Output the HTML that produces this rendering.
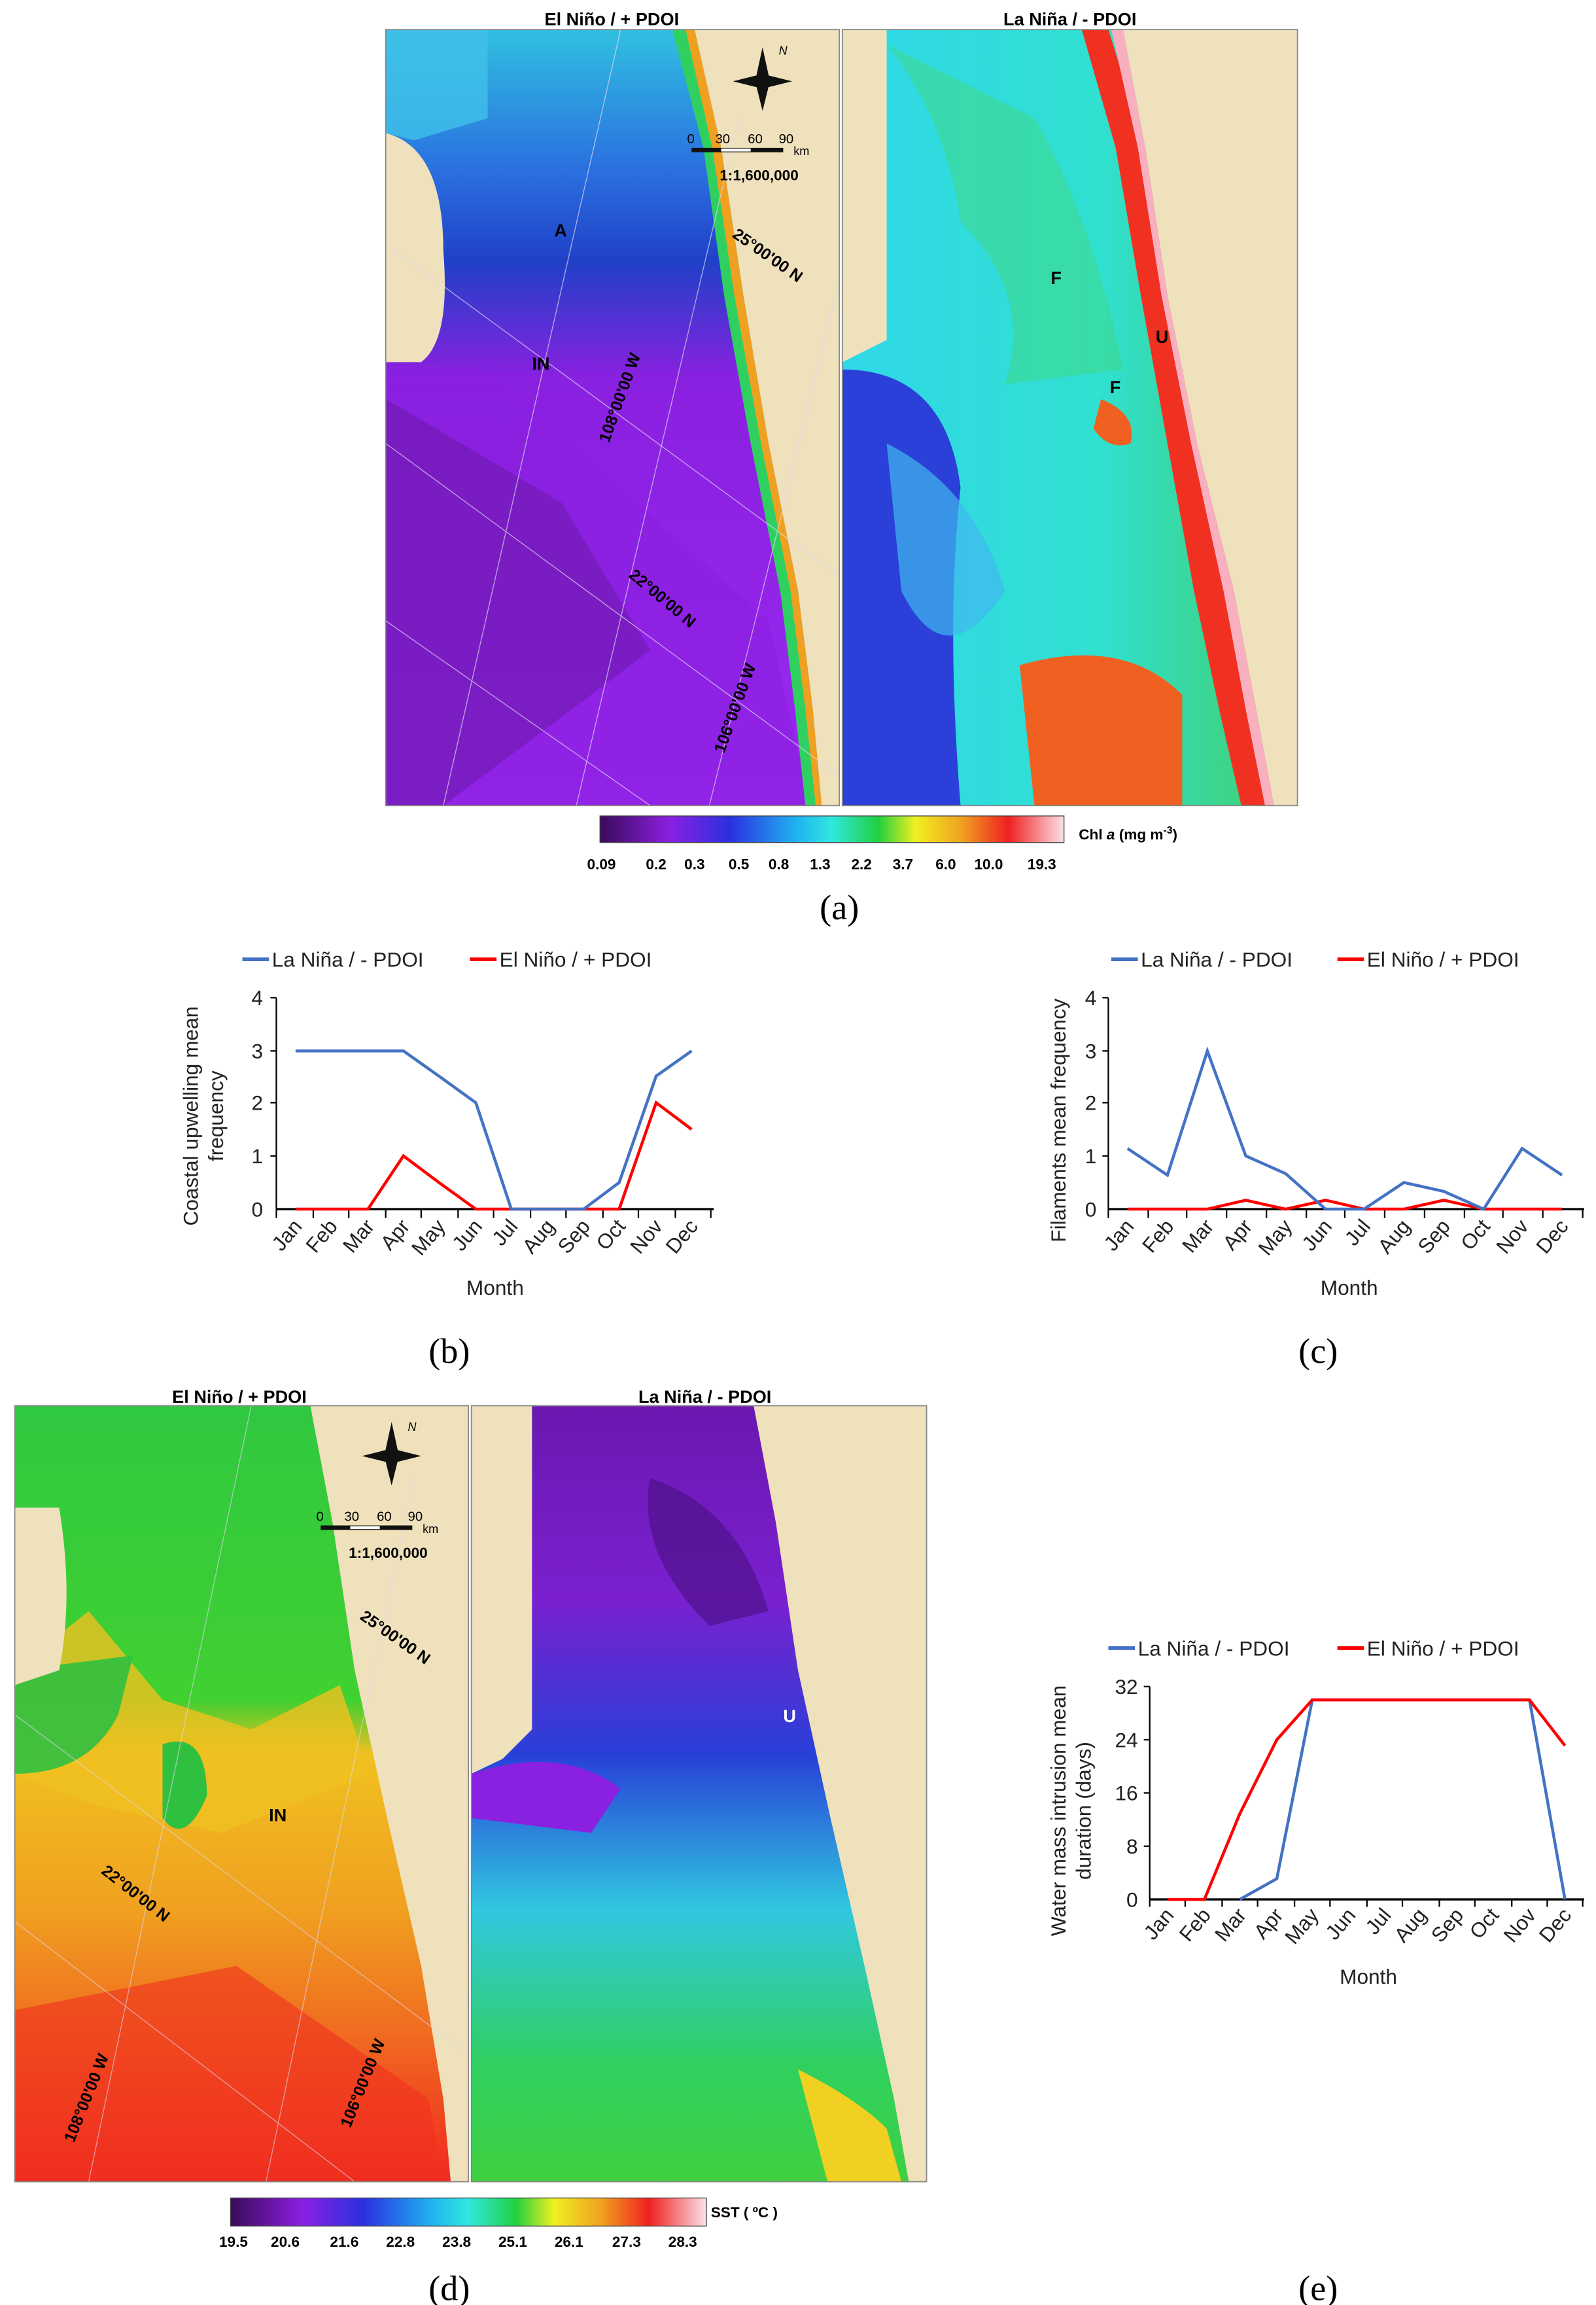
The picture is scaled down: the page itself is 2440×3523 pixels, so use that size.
<!DOCTYPE html>
<html><head><meta charset="utf-8"><style>
html,body{margin:0;padding:0;background:#fff;}
svg{display:block;}
text{font-family:"Liberation Sans",Arial,sans-serif;}
.t{font-weight:bold;font-size:12px;}
.lg{font-size:14px;fill:#222;}
.tk{font-size:14px;fill:#222;}
.cap{font-family:"Liberation Serif",serif;font-size:24px;}
.cb{font-size:10px;font-weight:bold;}
.ml{font-size:12px;font-weight:bold;}
</style></head><body>
<svg width="2440" height="3523" viewBox="0 0 1080 1559.4" preserveAspectRatio="none" xmlns="http://www.w3.org/2000/svg">
<defs>
<linearGradient id="chl" x1="0" x2="1" y1="0" y2="0">
<stop offset="0" stop-color="#3a0a5a"/><stop offset="0.15" stop-color="#8a20e0"/><stop offset="0.28" stop-color="#2a30e0"/><stop offset="0.42" stop-color="#20b0f0"/><stop offset="0.5" stop-color="#30e8e0"/><stop offset="0.6" stop-color="#20d040"/><stop offset="0.68" stop-color="#f0f020"/><stop offset="0.78" stop-color="#f0a020"/><stop offset="0.88" stop-color="#f02020"/><stop offset="1" stop-color="#fce0e8"/></linearGradient>
<linearGradient id="ocA" x1="0" x2="0" y1="0" y2="1">
<stop offset="0" stop-color="#30c0e0"/><stop offset="0.18" stop-color="#2a70e0"/><stop offset="0.3" stop-color="#2040c8"/><stop offset="0.45" stop-color="#8a20e0"/><stop offset="1" stop-color="#9a28f0"/></linearGradient>
<linearGradient id="ocB" x1="0" x2="1" y1="0" y2="0">
<stop offset="0" stop-color="#30d8e8"/><stop offset="0.6" stop-color="#30e0d0"/><stop offset="1" stop-color="#40d070"/></linearGradient>
<linearGradient id="ocD" x1="0" x2="0" y1="0" y2="1">
<stop offset="0" stop-color="#30c840"/><stop offset="0.38" stop-color="#40d030"/><stop offset="0.45" stop-color="#f0c020"/><stop offset="0.65" stop-color="#f0a020"/><stop offset="1" stop-color="#f02a20"/></linearGradient>
<linearGradient id="ocE" x1="0" x2="0" y1="0" y2="1">
<stop offset="0" stop-color="#6a18b0"/><stop offset="0.25" stop-color="#7a20d0"/><stop offset="0.45" stop-color="#2840d8"/><stop offset="0.65" stop-color="#30c8e0"/><stop offset="0.85" stop-color="#30d060"/><stop offset="1" stop-color="#40d040"/></linearGradient>
</defs>
<rect width="1080" height="1560" fill="#fff"/>

<!-- Panel a -->
<text class="t" x="414" y="17" text-anchor="middle">El Niño / + PDOI</text>
<text class="t" x="724" y="17" text-anchor="middle">La Niña / - PDOI</text>
<rect x="261" y="20" width="307" height="525" fill="#efe1bc"/>
<path d="M261,20 L470,20 L488,100 L503,200 L520,300 L540,400 L550,480 L556,545 L261,545 Z" fill="url(#ocA)"/>
<path d="M261,245 L330,250 L420,330 L520,420 L548,545 L261,545Z" fill="#8a20e0" opacity="0.6"/>
<path d="M261,270 L380,340 L440,440 L300,545 L261,545Z" fill="#6a1aa8" opacity="0.55"/>
<path d="M470,20 L488,100 L503,200 L520,300 L540,400 L550,480 L556,545 L545,545 L538,480 L528,400 L508,300 L490,200 L476,100 L455,20Z" fill="#30d060"/>
<path d="M470,20 L488,100 L503,200 L520,300 L540,400 L550,480 L556,545 L552,545 L545,480 L535,400 L515,300 L497,200 L482,100 L464,20Z" fill="#f0a020"/>
<path d="M261,90 Q300,100 300,170 Q305,230 285,245 L261,245Z" fill="#efe1bc"/>
<path d="M261,20 L330,20 L330,80 L280,95 L261,90Z" fill="#40c0e8" opacity="0.8"/>
<g stroke="#e0d8f0" stroke-width="0.6" opacity="0.7" fill="none">
<line x1="261" y1="165" x2="568" y2="390"/><line x1="261" y1="300" x2="568" y2="525"/><line x1="261" y1="420" x2="440" y2="545"/>
<line x1="300" y1="545" x2="420" y2="20"/><line x1="390" y1="545" x2="500" y2="80"/><line x1="480" y1="545" x2="568" y2="190"/>
</g>
<text x="375" y="160" font-size="12" font-weight="bold">A</text>
<text x="360" y="250" font-size="12" font-weight="bold">IN</text>
<text x="0" y="0" font-size="11" font-weight="bold" transform="translate(495,160) rotate(35)">25°00'00 N</text>
<text x="0" y="0" font-size="11" font-weight="bold" transform="translate(425,390) rotate(40)">22°00'00 N</text>
<text x="0" y="0" font-size="11" font-weight="bold" transform="translate(412,300) rotate(-70)">108°00'00 W</text>
<text x="0" y="0" font-size="11" font-weight="bold" transform="translate(490,510) rotate(-70)">106°00'00 W</text>
<path d="M516,32 L521,55 L516,75 L511,55Z M496,55 L516,50 L536,55 L516,60Z" fill="#111"/>
<text x="527" y="37" font-size="8" font-style="italic">N</text>
<text x="465" y="97" font-size="9">0</text><text x="484" y="97" font-size="9">30</text><text x="506" y="97" font-size="9">60</text><text x="527" y="97" font-size="9">90</text>
<rect x="468" y="100" width="62" height="3" fill="#111"/><rect x="488" y="100.5" width="20" height="2" fill="#fff"/>
<text x="537" y="105" font-size="8">km</text>
<text x="487" y="122" font-size="10" font-weight="bold">1:1,600,000</text>
<rect x="261" y="20" width="307" height="525" fill="none" stroke="#888" stroke-width="0.8"/>

<rect x="570" y="20" width="308" height="525" fill="#efe1bc"/>
<path d="M570,20 L760,20 L775,100 L790,200 L810,300 L835,400 L850,480 L862,545 L570,545Z" fill="url(#ocB)"/>
<path d="M570,250 Q640,250 650,330 Q640,420 650,545 L570,545Z" fill="#2a40d8"/>
<path d="M600,300 Q660,330 680,400 Q640,460 610,400Z" fill="#40b8f0" opacity="0.7"/>
<path d="M570,20 L600,20 L600,230 L570,245Z" fill="#efe1bc"/>
<path d="M600,30 Q640,80 650,150 Q700,200 680,260 L760,250 Q740,150 700,80Z" fill="#40d880" opacity="0.5"/>
<path d="M690,450 Q760,430 800,470 L800,545 L700,545Z" fill="#f06020"/>
<path d="M750,20 L775,100 L790,200 L810,300 L835,400 L850,480 L862,545 L840,545 L825,480 L808,400 L790,300 L772,200 L755,100 L732,20Z" fill="#f03020"/>
<path d="M760,20 L775,100 L790,200 L810,300 L835,400 L850,480 L862,545 L856,545 L843,480 L828,400 L806,300 L786,200 L770,100 L752,20Z" fill="#f8b0c0"/>
<path d="M745,270 Q770,280 765,300 Q750,305 740,290Z" fill="#f06020"/>
<text x="711" y="192" font-size="12" font-weight="bold">F</text>
<text x="782" y="232" font-size="12" font-weight="bold">U</text>
<text x="751" y="266" font-size="12" font-weight="bold">F</text>
<rect x="570" y="20" width="308" height="525" fill="none" stroke="#888" stroke-width="0.8"/>

<rect x="406" y="552" width="314" height="18" fill="url(#chl)" stroke="#444" stroke-width="0.6"/>
<text x="730" y="568" font-size="10" font-weight="bold">Chl <tspan font-style="italic">a</tspan> (mg m<tspan font-size="7" dy="-4">-3</tspan><tspan dy="4">)</tspan></text>
<g class="cb" text-anchor="middle">
<text x="407" y="588">0.09</text><text x="444" y="588">0.2</text><text x="470" y="588">0.3</text><text x="500" y="588">0.5</text><text x="527" y="588">0.8</text><text x="555" y="588">1.3</text><text x="583" y="588">2.2</text><text x="611" y="588">3.7</text><text x="640" y="588">6.0</text><text x="669" y="588">10.0</text><text x="705" y="588">19.3</text>
</g>
<text class="cap" x="568" y="622" text-anchor="middle">(a)</text>

<!-- Chart b -->
<g>
<line x1="164" y1="649" x2="182" y2="649" stroke="#4472c4" stroke-width="2.5"/><text class="lg" x="184" y="654">La Niña / - PDOI</text>
<line x1="318" y1="649" x2="336" y2="649" stroke="#f00" stroke-width="2.5"/><text class="lg" x="338" y="654">El Niño / + PDOI</text>
<g stroke="#000" stroke-width="1"><line x1="187" y1="675" x2="187" y2="818"/>
<line x1="183" y1="675" x2="187" y2="675"/><line x1="183" y1="711" x2="187" y2="711"/><line x1="183" y1="746" x2="187" y2="746"/><line x1="183" y1="782" x2="187" y2="782"/>
<line x1="187" y1="818" x2="483" y2="818" stroke-width="1.5"/>
<path d="M187,818v6M212,818v6M236,818v6M261,818v6M285,818v6M310,818v6M334,818v6M359,818v6M383,818v6M408,818v6M432,818v6M457,818v6M481,818v6"/></g>
<g class="tk" text-anchor="end"><text x="178" y="823">0</text><text x="178" y="787">1</text><text x="178" y="751">2</text><text x="178" y="716">3</text><text x="178" y="680">4</text></g>
<polyline fill="none" stroke="#f00" stroke-width="2" points="200,818 224,818 249,818 273,782 297,800 322,818 346,818 371,818 395,818 419,818 444,746 468,764"/>
<polyline fill="none" stroke="#4472c4" stroke-width="2" points="200,711 224,711 249,711 273,711 297,728 322,746 346,818 371,818 395,818 419,800 444,728 468,711"/>
<g class="tk" text-anchor="end">
<text transform="translate(205,830) rotate(-50)">Jan</text><text transform="translate(229,830) rotate(-50)">Feb</text><text transform="translate(254,830) rotate(-50)">Mar</text><text transform="translate(278,830) rotate(-50)">Apr</text><text transform="translate(302,830) rotate(-50)">May</text><text transform="translate(327,830) rotate(-50)">Jun</text><text transform="translate(351,830) rotate(-50)">Jul</text><text transform="translate(376,830) rotate(-50)">Aug</text><text transform="translate(400,830) rotate(-50)">Sep</text><text transform="translate(424,830) rotate(-50)">Oct</text><text transform="translate(449,830) rotate(-50)">Nov</text><text transform="translate(473,830) rotate(-50)">Dec</text>
</g>
<text class="tk" x="335" y="876" text-anchor="middle">Month</text>
<text class="tk" text-anchor="middle" transform="translate(134,755) rotate(-90)">Coastal upwelling mean</text>
<text class="tk" text-anchor="middle" transform="translate(151,755) rotate(-90)">frequency</text>
<text class="cap" x="304" y="922" text-anchor="middle">(b)</text>
</g>

<!-- Chart c -->
<g>
<line x1="752" y1="649" x2="770" y2="649" stroke="#4472c4" stroke-width="2.5"/><text class="lg" x="772" y="654">La Niña / - PDOI</text>
<line x1="905" y1="649" x2="923" y2="649" stroke="#f00" stroke-width="2.5"/><text class="lg" x="925" y="654">El Niño / + PDOI</text>
<g stroke="#000" stroke-width="1"><line x1="750" y1="675" x2="750" y2="818"/>
<line x1="746" y1="675" x2="750" y2="675"/><line x1="746" y1="711" x2="750" y2="711"/><line x1="746" y1="746" x2="750" y2="746"/><line x1="746" y1="782" x2="750" y2="782"/>
<line x1="750" y1="818" x2="1072" y2="818" stroke-width="1.5"/>
<path d="M750,818v6M777,818v6M803,818v6M830,818v6M857,818v6M884,818v6M910,818v6M937,818v6M964,818v6M991,818v6M1017,818v6M1044,818v6M1071,818v6"/></g>
<g class="tk" text-anchor="end"><text x="742" y="823">0</text><text x="742" y="787">1</text><text x="742" y="751">2</text><text x="742" y="716">3</text><text x="742" y="680">4</text></g>
<polyline fill="none" stroke="#f00" stroke-width="2" points="763,818 790,818 817,818 843,812 870,818 897,812 923,818 950,818 977,812 1004,818 1030,818 1057,818"/>
<polyline fill="none" stroke="#4472c4" stroke-width="2" points="763,777 790,795 817,711 843,782 870,794 897,818 923,818 950,800 977,806 1004,818 1030,777 1057,795"/>
<g class="tk" text-anchor="end">
<text transform="translate(768,830) rotate(-50)">Jan</text><text transform="translate(795,830) rotate(-50)">Feb</text><text transform="translate(822,830) rotate(-50)">Mar</text><text transform="translate(848,830) rotate(-50)">Apr</text><text transform="translate(875,830) rotate(-50)">May</text><text transform="translate(902,830) rotate(-50)">Jun</text><text transform="translate(928,830) rotate(-50)">Jul</text><text transform="translate(955,830) rotate(-50)">Aug</text><text transform="translate(982,830) rotate(-50)">Sep</text><text transform="translate(1009,830) rotate(-50)">Oct</text><text transform="translate(1035,830) rotate(-50)">Nov</text><text transform="translate(1062,830) rotate(-50)">Dec</text>
</g>
<text class="tk" x="913" y="876" text-anchor="middle">Month</text>
<text class="tk" text-anchor="middle" transform="translate(721,758) rotate(-90)">Filaments mean frequency</text>
<text class="cap" x="892" y="922" text-anchor="middle">(c)</text>
</g>

<!-- Panel d -->
<text class="t" x="162" y="949" text-anchor="middle">El Niño / + PDOI</text>
<text class="t" x="477" y="949" text-anchor="middle">La Niña / - PDOI</text>
<rect x="10" y="951" width="307" height="525" fill="#efe1bc"/>
<path d="M10,951 L210,951 L225,1030 L240,1130 L262,1230 L285,1330 L300,1420 L305,1476 L10,1476Z" fill="url(#ocD)"/>
<path d="M10,1130 L60,1090 L110,1150 L170,1170 L230,1140 L250,1200 L150,1240 L60,1220 L10,1200Z" fill="#f0c020" opacity="0.8"/>
<path d="M110,1180 Q140,1170 140,1215 Q125,1250 110,1230Z" fill="#30c040"/>
<path d="M10,1200 Q60,1200 80,1160 L90,1120 L10,1130Z" fill="#30c040" opacity="0.9"/>
<path d="M10,1020 L40,1020 Q50,1080 40,1130 L10,1140Z" fill="#efe1bc"/>
<path d="M10,1360 L160,1330 L290,1420 L300,1476 L10,1476Z" fill="#f03020" opacity="0.6"/>
<g stroke="#e0d8f0" stroke-width="0.6" opacity="0.6" fill="none">
<line x1="10" y1="1160" x2="317" y2="1390"/><line x1="10" y1="1300" x2="240" y2="1476"/>
<line x1="60" y1="1476" x2="170" y2="951"/><line x1="180" y1="1476" x2="280" y2="1000"/>
</g>
<text x="182" y="1232" font-size="12" font-weight="bold">IN</text>
<text font-size="11" font-weight="bold" transform="translate(243,1095) rotate(35)">25°00'00 N</text>
<text font-size="11" font-weight="bold" transform="translate(68,1267) rotate(38)">22°00'00 N</text>
<text font-size="11" font-weight="bold" transform="translate(50,1450) rotate(-68)">108°00'00 W</text>
<text font-size="11" font-weight="bold" transform="translate(237,1440) rotate(-68)">106°00'00 W</text>
<path d="M265,962 L270,985 L265,1005 L260,985Z M245,985 L265,980 L285,985 L265,990Z" fill="#111"/>
<text x="276" y="968" font-size="8" font-style="italic">N</text>
<text x="214" y="1029" font-size="9">0</text><text x="233" y="1029" font-size="9">30</text><text x="255" y="1029" font-size="9">60</text><text x="276" y="1029" font-size="9">90</text>
<rect x="217" y="1032" width="62" height="3" fill="#111"/><rect x="237" y="1032.5" width="20" height="2" fill="#fff"/>
<text x="286" y="1037" font-size="8">km</text>
<text x="236" y="1054" font-size="10" font-weight="bold">1:1,600,000</text>
<rect x="10" y="951" width="307" height="525" fill="none" stroke="#888" stroke-width="0.8"/>

<rect x="319" y="951" width="308" height="525" fill="#efe1bc"/>
<path d="M319,951 L510,951 L525,1030 L540,1130 L562,1230 L585,1330 L605,1420 L615,1476 L319,1476Z" fill="url(#ocE)"/>
<path d="M319,951 L360,951 L360,1170 L340,1190 L319,1200Z" fill="#efe1bc"/>
<path d="M319,1200 Q380,1180 420,1210 L400,1240 L319,1230Z" fill="#8a20e0"/>
<path d="M440,1000 Q500,1020 520,1090 L480,1100 Q430,1050 440,1000Z" fill="#4a0f80" opacity="0.6"/>
<path d="M540,1400 Q580,1420 600,1440 L610,1476 L560,1476Z" fill="#f0d020"/>
<text x="530" y="1165" font-size="12" font-weight="bold" fill="#fff">U</text>
<rect x="319" y="951" width="308" height="525" fill="none" stroke="#888" stroke-width="0.8"/>

<rect x="156" y="1487" width="322" height="19" fill="url(#chl)" stroke="#444" stroke-width="0.6"/>
<text x="481" y="1500" font-size="10" font-weight="bold">SST ( ºC )</text>
<g class="cb" text-anchor="middle">
<text x="158" y="1520">19.5</text><text x="193" y="1520">20.6</text><text x="233" y="1520">21.6</text><text x="271" y="1520">22.8</text><text x="309" y="1520">23.8</text><text x="347" y="1520">25.1</text><text x="385" y="1520">26.1</text><text x="424" y="1520">27.3</text><text x="462" y="1520">28.3</text>
</g>
<text class="cap" x="304" y="1556" text-anchor="middle">(d)</text>

<!-- Chart e -->
<g>
<line x1="750" y1="1115" x2="768" y2="1115" stroke="#4472c4" stroke-width="2.5"/><text class="lg" x="770" y="1120">La Niña / - PDOI</text>
<line x1="905" y1="1115" x2="923" y2="1115" stroke="#f00" stroke-width="2.5"/><text class="lg" x="925" y="1120">El Niño / + PDOI</text>
<g stroke="#000" stroke-width="1"><line x1="778" y1="1141" x2="778" y2="1285"/>
<line x1="774" y1="1141" x2="778" y2="1141"/><line x1="774" y1="1177" x2="778" y2="1177"/><line x1="774" y1="1213" x2="778" y2="1213"/><line x1="774" y1="1249" x2="778" y2="1249"/>
<line x1="778" y1="1285" x2="1072" y2="1285" stroke-width="1.5"/>
<path d="M778,1285v5M802,1285v5M827,1285v5M851,1285v5M876,1285v5M900,1285v5M925,1285v5M949,1285v5M974,1285v5M998,1285v5M1023,1285v5M1047,1285v5M1071,1285v5"/></g>
<g class="tk" text-anchor="end"><text x="770" y="1290">0</text><text x="770" y="1254">8</text><text x="770" y="1218">16</text><text x="770" y="1182">24</text><text x="770" y="1146">32</text></g>
<polyline fill="none" stroke="#4472c4" stroke-width="2" points="839,1285 864,1271 888,1150 913,1150 937,1150 961,1150 986,1150 1010,1150 1035,1150 1059,1285"/>
<polyline fill="none" stroke="#f00" stroke-width="2" points="790,1285 815,1285 839,1227 864,1177 888,1150 913,1150 937,1150 961,1150 986,1150 1010,1150 1035,1150 1059,1181"/>
<g class="tk" text-anchor="end">
<text transform="translate(795,1296) rotate(-50)">Jan</text><text transform="translate(820,1296) rotate(-50)">Feb</text><text transform="translate(844,1296) rotate(-50)">Mar</text><text transform="translate(869,1296) rotate(-50)">Apr</text><text transform="translate(893,1296) rotate(-50)">May</text><text transform="translate(918,1296) rotate(-50)">Jun</text><text transform="translate(942,1296) rotate(-50)">Jul</text><text transform="translate(966,1296) rotate(-50)">Aug</text><text transform="translate(991,1296) rotate(-50)">Sep</text><text transform="translate(1015,1296) rotate(-50)">Oct</text><text transform="translate(1040,1296) rotate(-50)">Nov</text><text transform="translate(1064,1296) rotate(-50)">Dec</text>
</g>
<text class="tk" x="926" y="1342" text-anchor="middle">Month</text>
<text class="tk" text-anchor="middle" transform="translate(721,1225) rotate(-90)">Water mass intrusion mean</text>
<text class="tk" text-anchor="middle" transform="translate(738,1225) rotate(-90)">duration (days)</text>
<text class="cap" x="892" y="1556" text-anchor="middle">(e)</text>
</g>
</svg>
</body></html>
